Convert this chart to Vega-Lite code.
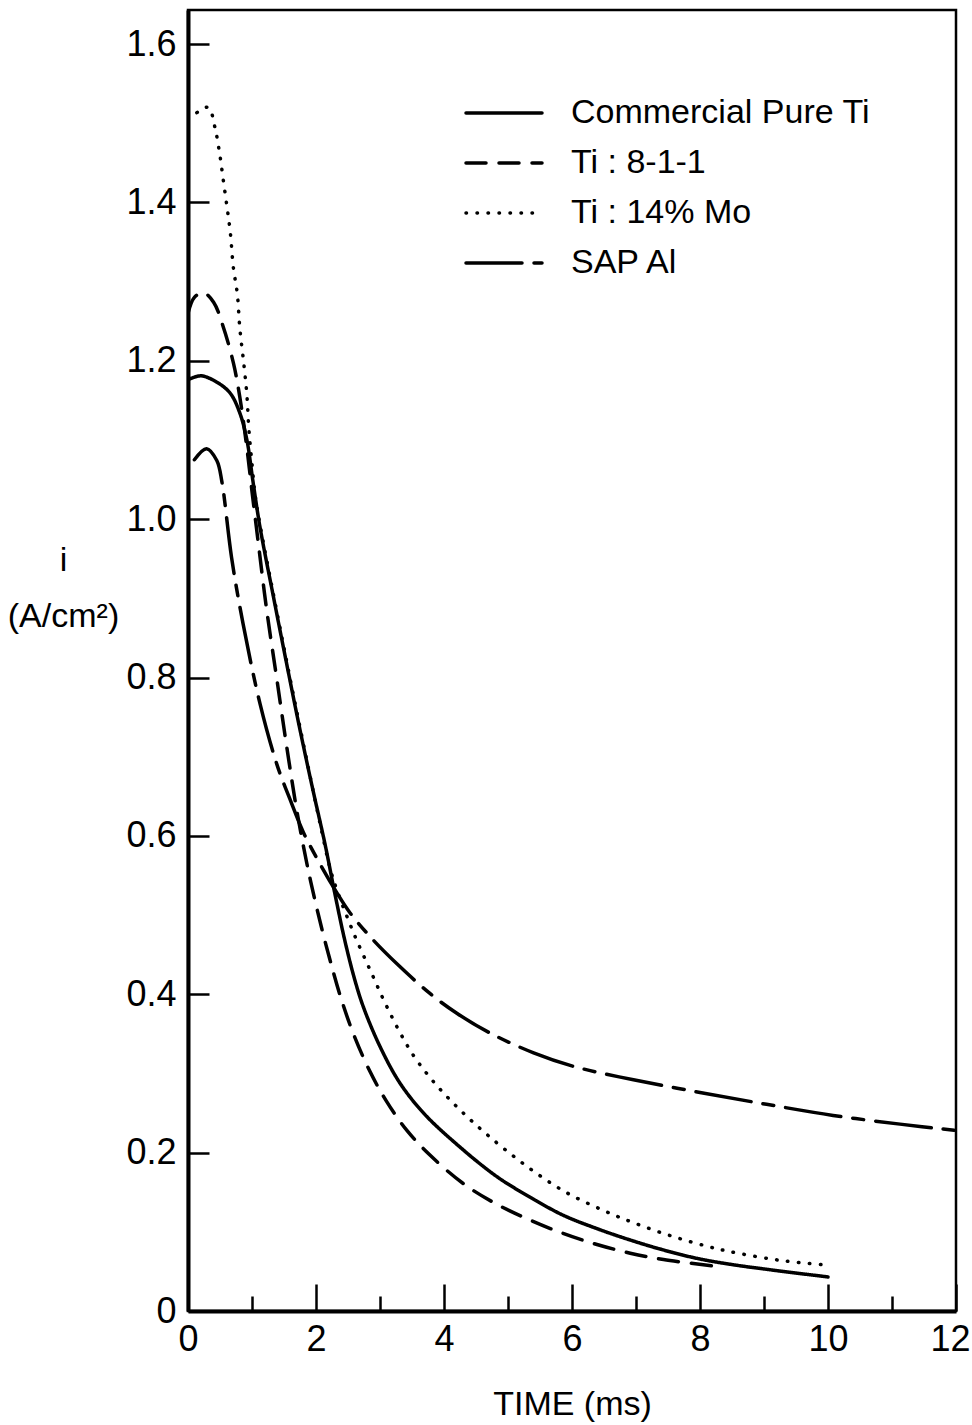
{
  "$schema": "https://vega.github.io/schema/vega-lite/v6.json",
  "width": 768,
  "height": 1301,
  "autosize": {"type": "none"},
  "padding": {"left": 188, "top": 10, "right": 16, "bottom": 114},
  "background": "white",
  "config": {
    "font": "Liberation Sans, Arial, sans-serif",
    "view": {"stroke": "black", "strokeWidth": 2.5}
  },
  "data": {
    "values": [
      {"series": "Commercial Pure Ti", "t": 0, "i": 1.176},
      {"series": "Commercial Pure Ti", "t": 0.2, "i": 1.181},
      {"series": "Commercial Pure Ti", "t": 0.45, "i": 1.173},
      {"series": "Commercial Pure Ti", "t": 0.66, "i": 1.159},
      {"series": "Commercial Pure Ti", "t": 0.81, "i": 1.134},
      {"series": "Commercial Pure Ti", "t": 0.92, "i": 1.1},
      {"series": "Commercial Pure Ti", "t": 1.02, "i": 1.045},
      {"series": "Commercial Pure Ti", "t": 1.125, "i": 0.99},
      {"series": "Commercial Pure Ti", "t": 1.33, "i": 0.904},
      {"series": "Commercial Pure Ti", "t": 1.54, "i": 0.818},
      {"series": "Commercial Pure Ti", "t": 1.75, "i": 0.734},
      {"series": "Commercial Pure Ti", "t": 1.96, "i": 0.655},
      {"series": "Commercial Pure Ti", "t": 2.14, "i": 0.59},
      {"series": "Commercial Pure Ti", "t": 2.3, "i": 0.525},
      {"series": "Commercial Pure Ti", "t": 2.45, "i": 0.468},
      {"series": "Commercial Pure Ti", "t": 2.6, "i": 0.42},
      {"series": "Commercial Pure Ti", "t": 2.74, "i": 0.384},
      {"series": "Commercial Pure Ti", "t": 3.0, "i": 0.334},
      {"series": "Commercial Pure Ti", "t": 3.31, "i": 0.288},
      {"series": "Commercial Pure Ti", "t": 3.68, "i": 0.25},
      {"series": "Commercial Pure Ti", "t": 4.15, "i": 0.214},
      {"series": "Commercial Pure Ti", "t": 4.82, "i": 0.17},
      {"series": "Commercial Pure Ti", "t": 5.34, "i": 0.144},
      {"series": "Commercial Pure Ti", "t": 5.86, "i": 0.121},
      {"series": "Commercial Pure Ti", "t": 6.39, "i": 0.104},
      {"series": "Commercial Pure Ti", "t": 6.91, "i": 0.0896},
      {"series": "Commercial Pure Ti", "t": 7.43, "i": 0.077},
      {"series": "Commercial Pure Ti", "t": 7.95, "i": 0.0665},
      {"series": "Commercial Pure Ti", "t": 8.47, "i": 0.059},
      {"series": "Commercial Pure Ti", "t": 9.2, "i": 0.051},
      {"series": "Commercial Pure Ti", "t": 10.0, "i": 0.043},

      {"series": "Ti : 8-1-1", "t": 0, "i": 1.26},
      {"series": "Ti : 8-1-1", "t": 0.1, "i": 1.28},
      {"series": "Ti : 8-1-1", "t": 0.24, "i": 1.286},
      {"series": "Ti : 8-1-1", "t": 0.4, "i": 1.274},
      {"series": "Ti : 8-1-1", "t": 0.55, "i": 1.243},
      {"series": "Ti : 8-1-1", "t": 0.71, "i": 1.197},
      {"series": "Ti : 8-1-1", "t": 0.81, "i": 1.154},
      {"series": "Ti : 8-1-1", "t": 0.92, "i": 1.09},
      {"series": "Ti : 8-1-1", "t": 1.0, "i": 1.035},
      {"series": "Ti : 8-1-1", "t": 1.1, "i": 0.969},
      {"series": "Ti : 8-1-1", "t": 1.23, "i": 0.885},
      {"series": "Ti : 8-1-1", "t": 1.39, "i": 0.797},
      {"series": "Ti : 8-1-1", "t": 1.54, "i": 0.714},
      {"series": "Ti : 8-1-1", "t": 1.7, "i": 0.632},
      {"series": "Ti : 8-1-1", "t": 1.85, "i": 0.568},
      {"series": "Ti : 8-1-1", "t": 1.96, "i": 0.527},
      {"series": "Ti : 8-1-1", "t": 2.09, "i": 0.483},
      {"series": "Ti : 8-1-1", "t": 2.22, "i": 0.443},
      {"series": "Ti : 8-1-1", "t": 2.375, "i": 0.399},
      {"series": "Ti : 8-1-1", "t": 2.58, "i": 0.351},
      {"series": "Ti : 8-1-1", "t": 2.84, "i": 0.303},
      {"series": "Ti : 8-1-1", "t": 3.1, "i": 0.265},
      {"series": "Ti : 8-1-1", "t": 3.42, "i": 0.228},
      {"series": "Ti : 8-1-1", "t": 3.78, "i": 0.197},
      {"series": "Ti : 8-1-1", "t": 4.3, "i": 0.161},
      {"series": "Ti : 8-1-1", "t": 4.82, "i": 0.135},
      {"series": "Ti : 8-1-1", "t": 5.34, "i": 0.115},
      {"series": "Ti : 8-1-1", "t": 5.86, "i": 0.098},
      {"series": "Ti : 8-1-1", "t": 6.39, "i": 0.084},
      {"series": "Ti : 8-1-1", "t": 6.91, "i": 0.073},
      {"series": "Ti : 8-1-1", "t": 7.43, "i": 0.065},
      {"series": "Ti : 8-1-1", "t": 8.3, "i": 0.056},

      {"series": "Ti : 14% Mo", "t": 0, "i": 1.505},
      {"series": "Ti : 14% Mo", "t": 0.19, "i": 1.516},
      {"series": "Ti : 14% Mo", "t": 0.32, "i": 1.52},
      {"series": "Ti : 14% Mo", "t": 0.42, "i": 1.495},
      {"series": "Ti : 14% Mo", "t": 0.49, "i": 1.464},
      {"series": "Ti : 14% Mo", "t": 0.55, "i": 1.429},
      {"series": "Ti : 14% Mo", "t": 0.61, "i": 1.394},
      {"series": "Ti : 14% Mo", "t": 0.66, "i": 1.363},
      {"series": "Ti : 14% Mo", "t": 0.71, "i": 1.317},
      {"series": "Ti : 14% Mo", "t": 0.77, "i": 1.285},
      {"series": "Ti : 14% Mo", "t": 0.81, "i": 1.241},
      {"series": "Ti : 14% Mo", "t": 0.875, "i": 1.194},
      {"series": "Ti : 14% Mo", "t": 0.92, "i": 1.157},
      {"series": "Ti : 14% Mo", "t": 0.95, "i": 1.115},
      {"series": "Ti : 14% Mo", "t": 1.0, "i": 1.07},
      {"series": "Ti : 14% Mo", "t": 1.05, "i": 1.03},
      {"series": "Ti : 14% Mo", "t": 1.125, "i": 0.993},
      {"series": "Ti : 14% Mo", "t": 1.33, "i": 0.907},
      {"series": "Ti : 14% Mo", "t": 1.54, "i": 0.821},
      {"series": "Ti : 14% Mo", "t": 1.75, "i": 0.737},
      {"series": "Ti : 14% Mo", "t": 1.96, "i": 0.655},
      {"series": "Ti : 14% Mo", "t": 2.1, "i": 0.602},
      {"series": "Ti : 14% Mo", "t": 2.22, "i": 0.559},
      {"series": "Ti : 14% Mo", "t": 2.32, "i": 0.533},
      {"series": "Ti : 14% Mo", "t": 2.48, "i": 0.499},
      {"series": "Ti : 14% Mo", "t": 2.61, "i": 0.473},
      {"series": "Ti : 14% Mo", "t": 2.77, "i": 0.444},
      {"series": "Ti : 14% Mo", "t": 2.9, "i": 0.421},
      {"series": "Ti : 14% Mo", "t": 3.05, "i": 0.394},
      {"series": "Ti : 14% Mo", "t": 3.31, "i": 0.352},
      {"series": "Ti : 14% Mo", "t": 3.52, "i": 0.323},
      {"series": "Ti : 14% Mo", "t": 3.73, "i": 0.3},
      {"series": "Ti : 14% Mo", "t": 3.94, "i": 0.28},
      {"series": "Ti : 14% Mo", "t": 4.25, "i": 0.254},
      {"series": "Ti : 14% Mo", "t": 4.67, "i": 0.223},
      {"series": "Ti : 14% Mo", "t": 5.24, "i": 0.186},
      {"series": "Ti : 14% Mo", "t": 5.86, "i": 0.152},
      {"series": "Ti : 14% Mo", "t": 6.49, "i": 0.127},
      {"series": "Ti : 14% Mo", "t": 7.01, "i": 0.11},
      {"series": "Ti : 14% Mo", "t": 7.58, "i": 0.094},
      {"series": "Ti : 14% Mo", "t": 8.1, "i": 0.082},
      {"series": "Ti : 14% Mo", "t": 8.47, "i": 0.075},
      {"series": "Ti : 14% Mo", "t": 9.25, "i": 0.064},
      {"series": "Ti : 14% Mo", "t": 10.0, "i": 0.058},

      {"series": "SAP Al", "t": 0.1, "i": 1.075},
      {"series": "SAP Al", "t": 0.29, "i": 1.089},
      {"series": "SAP Al", "t": 0.45, "i": 1.074},
      {"series": "SAP Al", "t": 0.53, "i": 1.047},
      {"series": "SAP Al", "t": 0.68, "i": 0.952},
      {"series": "SAP Al", "t": 0.86, "i": 0.868},
      {"series": "SAP Al", "t": 1.125, "i": 0.767},
      {"series": "SAP Al", "t": 1.39, "i": 0.69},
      {"series": "SAP Al", "t": 1.59, "i": 0.647},
      {"series": "SAP Al", "t": 1.8, "i": 0.605},
      {"series": "SAP Al", "t": 2.06, "i": 0.565},
      {"series": "SAP Al", "t": 2.32, "i": 0.529},
      {"series": "SAP Al", "t": 2.53, "i": 0.503},
      {"series": "SAP Al", "t": 2.9, "i": 0.468},
      {"series": "SAP Al", "t": 3.31, "i": 0.435},
      {"series": "SAP Al", "t": 3.78, "i": 0.401},
      {"series": "SAP Al", "t": 4.2, "i": 0.376},
      {"series": "SAP Al", "t": 4.72, "i": 0.351},
      {"series": "SAP Al", "t": 5.4, "i": 0.326},
      {"series": "SAP Al", "t": 6.02, "i": 0.309},
      {"series": "SAP Al", "t": 6.96, "i": 0.292},
      {"series": "SAP Al", "t": 8.0, "i": 0.276},
      {"series": "SAP Al", "t": 9.04, "i": 0.261},
      {"series": "SAP Al", "t": 10.08, "i": 0.247},
      {"series": "SAP Al", "t": 11.125, "i": 0.236},
      {"series": "SAP Al", "t": 12.0, "i": 0.228}
    ]
  },
  "mark": {"type": "line", "strokeCap": "round", "color": "black", "interpolate": "catmull-rom", "clip": true},
  "encoding": {
    "x": {
      "field": "t",
      "type": "quantitative",
      "scale": {"domain": [0, 12], "nice": false, "zero": false},
      "axis": {
        "title": "TIME (ms)",
        "values": [0, 1, 2, 3, 4, 5, 6, 7, 8, 9, 10, 11, 12],
        "grid": false,
        "domainColor": "black",
        "domainWidth": 4,
        "tickColor": "black",
        "tickWidth": 2.5,
        "tickSize": {"condition": {"test": "datum.value % 2 === 0", "value": -27}, "value": -15},
        "labelExpr": "datum.value % 2 === 0 ? datum.label : ''",
        "labelPadding": 38,
        "labelFontSize": 36,
        "labelColor": "black",
        "labelFlush": false,
        "labelOverlap": false,
        "labelAlign": {"condition": {"test": "datum.value === 12", "value": "right"}, "value": "center"},
        "labelOffset": {"condition": {"test": "datum.value === 12", "value": 14}, "value": 0},
        "titleFontSize": 34,
        "titleFontWeight": "normal",
        "titleColor": "black",
        "titleY": 103,
        "titleBaseline": "alphabetic"
      }
    },
    "y": {
      "field": "i",
      "type": "quantitative",
      "scale": {"domain": [0, 1.643], "nice": false},
      "axis": {
        "title": ["i", "(A/cm²)"],
        "values": [0, 0.2, 0.4, 0.6, 0.8, 1.0, 1.2, 1.4, 1.6],
        "grid": false,
        "domainColor": "black",
        "domainWidth": 4,
        "tickColor": "black",
        "tickWidth": 2.5,
        "tickSize": -21,
        "labelPadding": 33,
        "labelExpr": "datum.value == 0 ? '0' : format(datum.value, '.1f')",
        "labelFontSize": 36,
        "labelColor": "black",
        "labelFlush": false,
        "labelOverlap": false,
        "titleFontSize": 34,
        "titleFontWeight": "normal",
        "titleColor": "black",
        "titleAngle": 0,
        "titleAlign": "center",
        "titleBaseline": "alphabetic",
        "titleX": -125,
        "titleY": 560,
        "titleLineHeight": 56
      }
    },
    "strokeWidth": {
      "field": "series",
      "type": "nominal",
      "scale": {
        "domain": ["Commercial Pure Ti", "Ti : 8-1-1", "Ti : 14% Mo", "SAP Al"],
        "range": [3.5, 3.5, 4.8, 3.5]
      },
      "legend": null
    },
    "strokeDash": {
      "field": "series",
      "type": "nominal",
      "scale": {
        "domain": ["Commercial Pure Ti", "Ti : 8-1-1", "Ti : 14% Mo", "SAP Al"],
        "range": [[1, 0], [20, 13], [0.5, 10.5], [56, 12, 11, 12]]
      },
      "legend": {
        "title": null,
        "orient": "none",
        "legendX": 299,
        "legendY": 86,
        "symbolType": "M-4,0H4",
        "symbolSize": 361,
        "symbolStrokeWidth": 3.5,
        "symbolStrokeColor": "black",
        "labelFontSize": 34,
        "labelColor": "black",
        "labelOffset": 50,
        "labelLimit": 500,
        "rowPadding": 16,
        "encode": {"symbols": {"update": {"strokeCap": {"value": "round"}}}}
      }
    }
  }
}
